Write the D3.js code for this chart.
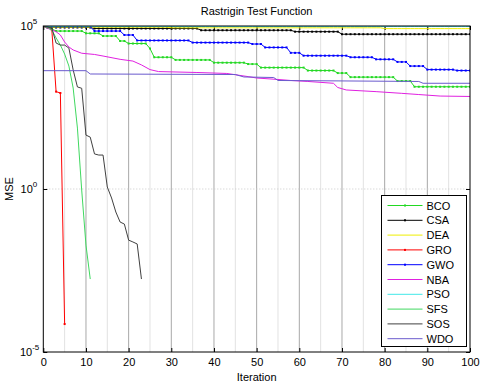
<!DOCTYPE html>
<html>
<head>
<meta charset="utf-8">
<script src="https://cdn.jsdelivr.net/npm/d3@7"></script>
<style>
  body { margin: 0; background: #fff; }
  svg { display: block; font-family: Arial, "Liberation Sans", sans-serif; }
</style>
</head>
<body>
<svg id="chart" width="484" height="386"></svg>
<script>
// ---- data ----
const xTicks = [0, 10, 20, 30, 40, 50, 60, 70, 80, 90, 100];
const xMinor = [5, 15, 25, 35, 45, 55, 65, 75, 85, 95];
const yTicks = [1e-5, 1e0, 1e5];
const yExp = ['-5', '0', '5'];

const names = ['BCO', 'CSA', 'DEA', 'GRO', 'GWO', 'NBA', 'PSO', 'SFS', 'SOS', 'WDO'];
const colors = ['#22d822', '#000000', '#eeee00', '#ff0000', '#0000ff', '#e020e0', '#40e8e8', '#40d860', '#404040', '#6a5acd'];
const markers = [true, true, false, true, true, false, false, false, false, false];

// plateaus: [from, to, MSE]
const bcoRuns = [[0, 0, 9.66e4], [1, 1, 9.0e4], [2, 2, 8.1e4], [3, 9, 7.0e4], [10, 13, 5.97e4], [14, 17, 4.93e4],
  [18, 19, 3.47e4], [20, 24, 2.9e4], [25, 25, 2.04e4], [26, 30, 1.1e4], [31, 39, 9.1e3], [40, 47, 7.5e3],
  [48, 50, 6.8e3], [51, 61, 5.3e3], [62, 68, 4.3e3], [69, 71, 3.6e3], [72, 82, 2.7e3], [83, 86, 2.05e3], [87, 100, 1.37e3]];
const csaRuns = [[0, 0, 9.66e4], [1, 11, 9.0e4], [12, 36, 8.4e4], [37, 58, 7.4e4], [59, 69, 6.7e4], [70, 100, 5.6e4]];
const deaRuns = [[0, 29, 9.2e4], [30, 79, 8.8e4], [80, 100, 8.3e4]];
const gwoRuns = [[0, 11, 9.66e4], [12, 18, 7.0e4], [19, 21, 5.3e4], [22, 34, 3.6e4], [35, 48, 3.1e4], [49, 51, 2.8e4],
  [52, 57, 2.2e4], [58, 60, 1.5e4], [61, 71, 1.23e4], [72, 77, 1.1e4], [78, 82, 9.5e3], [83, 85, 7.9e3],
  [86, 89, 5.9e3], [90, 96, 4.6e3], [97, 100, 4.3e3]];
const psoRuns = [[0, 30, 9.7e4], [31, 100, 9.6e4]];

// points: [iteration, MSE]
const groPts = [[0, 9.66e4], [1, 9.3e4], [2, 7.5e4], [3, 9.7e2], [4, 8.8e2], [5, 7.2e-5]];
const nbaPts = [[0, 9.66e4], [3, 6.68e4], [4, 5.3e4], [5, 3.23e4], [6, 2.27e4], [7, 1.84e4], [9, 1.46e4], [12, 1.34e4],
  [14, 1.2e4], [18, 9.5e3], [21, 8.4e3], [23, 6.4e3], [25, 4.6e3], [27, 4.0e3], [36, 3.75e3], [43, 3.5e3],
  [48, 2.8e3], [50, 2.54e3], [55, 2.29e3], [58, 2.13e3], [62, 1.99e3], [68, 1.75e3], [69, 1.3e3], [71, 1.09e3],
  [78, 9.7e2], [84, 8.6e2], [88, 7.9e2], [93, 7.1e2], [100, 6.9e2]];
const sfsPts = [[0, 9.66e4], [1, 9.0e4], [2, 7.5e4], [3, 4.3e4], [4, 2.6e4], [5, 1.38e4], [6, 5.9e3], [7, 1.25e3],
  [8, 74], [9, 0.93], [10, 0.019], [11, 1.73e-3]];
const sosPts = [[0, 9.66e4], [1, 9.3e4], [2, 8.7e4], [3, 3.0e4], [4, 2.6e4], [5, 2.6e4], [6, 2.1e4], [7, 4.5e3],
  [8, 1.35e3], [9, 1.23e3], [10, 45], [11, 39], [12, 11.9], [13, 11], [14, 11], [15, 1.15], [16, 0.53],
  [17, 0.197], [18, 0.097], [19, 0.084], [20, 0.027], [21, 0.0237], [22, 0.0206], [23, 1.73e-3]];
const wdoPts = [[0, 4.26e3], [10, 4.26e3], [11, 3.37e3], [45, 3.25e3], [47, 2.73e3], [54, 2.63e3], [55, 2.13e3],
  [88, 1.99e3], [89, 1.75e3], [100, 1.75e3]];

function fromRuns (runs) {
  const out = [];
  runs.forEach(r => { for (let i = r[0]; i <= r[1]; i++) out.push([i, r[2]]); });
  return out;
}

const series = [fromRuns(bcoRuns), fromRuns(csaRuns), fromRuns(deaRuns), groPts, fromRuns(gwoRuns),
  nbaPts, fromRuns(psoRuns), sfsPts, sosPts, wdoPts];

// ---- layout ----
const pLeft = 43.3, pRight = 470, pTop = 26, pBottom = 352;
const svg = d3.select('#chart');
const x = d3.scaleLinear().domain([0, 100]).range([pLeft, pRight]);
const y = d3.scaleLog().domain([1e-5, 1e5]).range([pBottom, pTop]);

svg.append('defs').append('clipPath').attr('id', 'clip')
  .append('rect').attr('x', pLeft).attr('y', pTop).attr('width', pRight - pLeft).attr('height', pBottom - pTop);

// grid
svg.append('g').selectAll('line').data(xMinor).join('line')
  .attr('x1', d => x(d)).attr('x2', d => x(d)).attr('y1', pTop).attr('y2', pBottom)
  .attr('stroke', '#e2e2e2').attr('stroke-width', 1);
svg.append('g').selectAll('line').data(xTicks.slice(1, -1)).join('line')
  .attr('x1', d => x(d)).attr('x2', d => x(d)).attr('y1', pTop).attr('y2', pBottom)
  .attr('stroke', '#a8a8a8').attr('stroke-width', 1);
svg.append('line').attr('x1', pLeft).attr('x2', pRight).attr('y1', y(1)).attr('y2', y(1))
  .attr('stroke', '#c8c8c8').attr('stroke-dasharray', '1,2');

// axes (ticks inward)
const xa = svg.append('g').attr('transform', `translate(0,${pBottom})`)
  .call(d3.axisBottom(x).tickValues(xTicks).tickSize(-4).tickPadding(6));
svg.append('g').attr('transform', `translate(0,${pTop})`)
  .call(d3.axisTop(x).tickValues(xTicks).tickSize(-4).tickFormat(''));
svg.append('g').attr('transform', `translate(${pLeft},0)`)
  .call(d3.axisLeft(y).tickValues(yTicks).tickSize(-4).tickFormat(''));
svg.append('g').attr('transform', `translate(${pRight},0)`)
  .call(d3.axisRight(y).tickValues(yTicks).tickSize(-4).tickFormat(''));
svg.selectAll('.domain').remove();
svg.selectAll('.tick line').attr('stroke', '#000');
xa.selectAll('text').attr('font-size', 11).attr('fill', '#000').attr('font-family', 'Arial, "Liberation Sans", sans-serif');

// y labels 10^n
const yl = svg.append('g').selectAll('text').data(yTicks).join('text')
  .attr('x', (d, i) => pLeft - (yExp[i].length > 1 ? 4 : 6)).attr('y', d => y(d) + 4)
  .attr('text-anchor', 'end').attr('font-size', 11);
yl.append('tspan').text('10');
yl.append('tspan').attr('dy', -6).attr('font-size', 8).text((d, i) => yExp[i]);

// lines
const line = d3.line().x(d => x(d[0])).y(d => y(d[1]));
const plot = svg.append('g').attr('clip-path', 'url(#clip)');
series.forEach((s, i) => {
  plot.append('path').datum(s).attr('d', line)
    .attr('fill', 'none').attr('stroke', colors[i]).attr('stroke-width', 1);
  if (markers[i]) {
    plot.append('g').selectAll('rect').data(s).join('rect')
      .attr('x', d => x(d[0]) - 1).attr('y', d => y(d[1]) - 1)
      .attr('width', 2).attr('height', 2).attr('fill', colors[i]);
  }
});

// frame
svg.append('rect').attr('x', pLeft).attr('y', pTop).attr('width', pRight - pLeft).attr('height', pBottom - pTop)
  .attr('fill', 'none').attr('stroke', '#000').attr('stroke-width', 1);

// titles
svg.append('text').attr('x', (pLeft + pRight) / 2).attr('y', 15).attr('text-anchor', 'middle')
  .attr('font-size', 11).text('Rastrigin Test Function');
svg.append('text').attr('x', (pLeft + pRight) / 2).attr('y', 381).attr('text-anchor', 'middle')
  .attr('font-size', 11).text('Iteration');
svg.append('text').attr('transform', `translate(13,${y(1)}) rotate(-90)`).attr('text-anchor', 'middle')
  .attr('font-size', 11).text('MSE');

// legend
const lg = svg.append('g').attr('transform', 'translate(381.5,195.5)');
lg.append('rect').attr('width', 85).attr('height', 151).attr('fill', '#fff').attr('stroke', '#000');
const item = lg.selectAll('g.item').data(names).join('g').attr('class', 'item')
  .attr('transform', (d, i) => `translate(0,${10 + i * 14.8})`);
item.append('line').attr('x1', 6).attr('x2', 41).attr('stroke', (d, i) => colors[i]);
item.filter((d, i) => markers[i]).append('rect').attr('x', 22.5).attr('y', -1).attr('width', 2).attr('height', 2)
  .attr('fill', d => colors[names.indexOf(d)]);
item.append('text').attr('x', 45).attr('y', 4).attr('font-size', 11).text(d => d);
</script>
</body>
</html>
